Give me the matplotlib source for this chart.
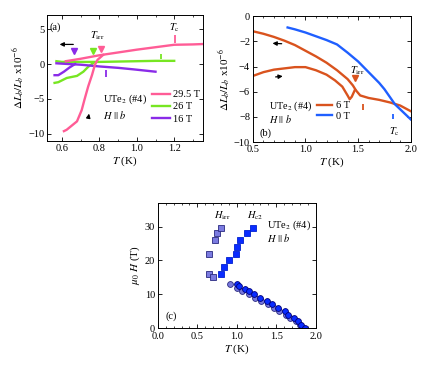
import matplotlib
matplotlib.use("Agg")
import matplotlib.pyplot as plt
from matplotlib.ticker import MultipleLocator

plt.rcParams['font.family'] = ['Liberation Serif', 'DejaVu Serif']
plt.rcParams['mathtext.fontset'] = 'stix'
plt.rcParams['font.size'] = 7.5

# ---------------- Panel (a) data ----------------
a295_cool_T = [0.62, 0.70, 0.80, 0.90, 1.00, 1.10, 1.20, 1.30, 1.35]
a295_cool_y = [0.40, 0.75, 1.25, 1.65, 2.05, 2.40, 2.75, 2.80, 2.85]
a295_warm_T = [0.61, 0.625, 0.68, 0.705, 0.72, 0.74, 0.76, 0.776, 0.79, 0.82]
a295_warm_y = [-9.6, -9.4, -8.2, -6.6, -5.1, -3.2, -1.6, -0.1, 0.6, 1.3]
a26_cool_T = [0.57, 0.60, 0.70, 0.80, 0.90, 1.00, 1.10, 1.20]
a26_cool_y = [0.40, 0.30, 0.30, 0.30, 0.35, 0.40, 0.45, 0.45]
a26_warm_T = [0.56, 0.58, 0.625, 0.68, 0.714, 0.74, 0.77]
a26_warm_y = [-2.7, -2.6, -2.0, -1.7, -1.1, -0.4, 0.2]
a16_cool_T = [0.57, 0.60, 0.70, 0.80, 0.90, 0.98, 1.10]
a16_cool_y = [0.10, 0.05, -0.10, -0.35, -0.55, -0.76, -1.10]
a16_warm_T = [0.56, 0.58, 0.61, 0.64, 0.67]
a16_warm_y = [-1.6, -1.6, -1.1, -0.5, 0.0]
a_labels = ['29.5 T', '26 T', '16 T']
a_colors = ['#ff5c96', '#77e622', '#8a2be8']
a_tirr_T = [0.81, 0.764, 0.665]
a_tirr_y = [2.2, 1.9, 1.8]
a_tc_T = [1.205, 1.128, 0.835]
a_tc_lo = [3.0, 0.7, -1.9]
a_tc_hi = [4.1, 1.5, -0.9]

# ---------------- Panel (b) data ----------------
b6_cool_T = [0.5, 0.6, 0.7, 0.8, 0.9, 1.0, 1.1, 1.2, 1.3, 1.4, 1.45, 1.48, 1.52,
             1.6, 1.7, 1.8, 1.9, 2.0]
b6_cool_y = [-1.2, -1.4, -1.65, -1.95, -2.3, -2.75, -3.2, -3.7, -4.3, -5.0, -5.5,
             -5.9, -6.3, -6.5, -6.65, -6.85, -7.1, -7.55]
b6_warm_T = [0.5, 0.6, 0.7, 0.8, 0.9, 1.0, 1.1, 1.2, 1.28, 1.35, 1.40, 1.42, 1.44, 1.47]
b6_warm_y = [-4.75, -4.45, -4.25, -4.15, -4.05, -4.05, -4.3, -4.65, -5.1, -5.6,
             -6.3, -6.6, -6.4, -5.85]
b0_T = [0.83, 0.9, 1.0, 1.1, 1.2, 1.3, 1.4, 1.5, 1.6, 1.7, 1.75, 1.8, 1.85, 1.9, 1.95, 2.0]
b0_y = [-0.9, -1.05, -1.3, -1.6, -1.9, -2.25, -2.9, -3.6, -4.45, -5.3, -5.8,
        -6.4, -7.0, -7.4, -7.8, -8.2]
b_labels = ['6 T', '0 T']
b_colors = ['#d9531e', '#1f5fff']
b_tirr_T = [1.47]
b_tirr_y = [-4.9]
b_tc_T = [1.55, 1.83]
b_tc_lo = [-7.45, -8.2]
b_tc_hi = [-6.95, -7.75]

# ---------------- Panel (c) data ----------------
hirr_sq_T = [0.65, 0.72, 0.75, 0.80, 0.65, 0.70]
hirr_sq_H = [22.0, 26.0, 28.0, 29.5, 16.0, 15.0]
hc2_sq_T = [0.80, 0.84, 0.90, 0.99, 1.00, 1.04, 1.13, 1.20]
hc2_sq_H = [16.0, 18.0, 20.0, 22.0, 24.0, 26.0, 28.0, 29.5]
hc2_ci_T = [1.00, 1.03, 1.10, 1.16, 1.22, 1.30, 1.38, 1.45, 1.52, 1.61, 1.65,
            1.72, 1.78, 1.82, 1.86]
hc2_ci_H = [13.0, 12.5, 11.5, 11.0, 10.0, 9.0, 8.0, 7.0, 6.0, 5.0, 4.0,
            3.0, 2.0, 1.0, 0.0]
hirr_ci_T = [0.92, 1.00, 1.07, 1.155, 1.23, 1.31, 1.39, 1.47, 1.54, 1.62, 1.68,
             1.75, 1.80, 1.83]
hirr_ci_H = [13.0, 12.0, 11.0, 10.0, 9.0, 8.0, 7.0, 6.0, 5.0, 4.0, 3.0,
             2.0, 1.0, 0.0]

fig = plt.figure(figsize=(4.36, 3.67), dpi=100)
axa = fig.add_axes([0.108, 0.616, 0.358, 0.343])
axb = fig.add_axes([0.580, 0.613, 0.362, 0.343])
axc = fig.add_axes([0.362, 0.106, 0.362, 0.341])


def style(ax):
    ax.tick_params(which='both', direction='in', top=True, right=True,
                   labelsize=7.5, pad=2)
    ax.tick_params(which='major', length=3, width=0.6)
    ax.tick_params(which='minor', length=1.6, width=0.5)
    for s in ax.spines.values():
        s.set_linewidth(0.7)


lw = 1.7
ylab = r'$\Delta L_b/L_b$ x10$^{-6}$'

# ---- (a) ----
cool_a = [(a295_cool_T, a295_cool_y), (a26_cool_T, a26_cool_y), (a16_cool_T, a16_cool_y)]
warm_a = [(a295_warm_T, a295_warm_y), (a26_warm_T, a26_warm_y), (a16_warm_T, a16_warm_y)]
for i in [1, 2, 0]:
    axa.plot(*warm_a[i], color=a_colors[i], lw=lw)
    axa.plot(*cool_a[i], color=a_colors[i], lw=lw, label=a_labels[i])
for i in range(3):
    axa.plot([a_tirr_T[i]], [a_tirr_y[i]], marker='v', color=a_colors[i], ms=4.5,
             mec=a_colors[i], ls='none', zorder=5)
    axa.vlines(a_tc_T[i], a_tc_lo[i], a_tc_hi[i], color=a_colors[i], lw=1.3, zorder=5)
hs, ls = axa.get_legend_handles_labels()
order = [ls.index(l) for l in a_labels]
axa.legend([hs[k] for k in order], [ls[k] for k in order], loc='upper left',
           bbox_to_anchor=(0.672, 0.405), frameon=False, borderpad=0, borderaxespad=0,
           labelspacing=0.28, handlelength=1.75, handletextpad=0.3, fontsize=7.5)
axa.text(0.82, -5.0, r'UTe$_2$ (#4)', fontsize=7.5, va='center', ha='left')
axa.text(0.82, -7.3, r'$H\ ||\ b$', fontsize=7.5, va='center', ha='left')
axa.text(0.79, 4.0, r'$T_{\rm irr}$', fontsize=7.5, ha='center', va='center')
axa.text(1.20, 5.2, r'$T_{\rm c}$', fontsize=7.5, ha='center', va='center')
axa.text(0.535, 5.2, '(a)', fontsize=7.5, ha='left', va='center')
axa.annotate('', xy=(0.572, 2.8), xytext=(0.675, 2.8),
             arrowprops=dict(arrowstyle='-|>', color='k', lw=0.9, mutation_scale=6))
axa.annotate('', xy=(0.747, -6.7), xytext=(0.738, -8.1),
             arrowprops=dict(arrowstyle='-|>', color='k', lw=0.9, mutation_scale=6))
axa.set_xlim(0.52, 1.355)
axa.set_ylim(-11, 7)
axa.xaxis.set_major_locator(MultipleLocator(0.2))
axa.xaxis.set_minor_locator(MultipleLocator(0.1))
axa.yaxis.set_major_locator(MultipleLocator(5))
axa.set_xlabel(r'$T$ (K)', fontsize=8, labelpad=1)
axa.set_ylabel(ylab, fontsize=8, labelpad=1)
style(axa)

# ---- (b) ----
axb.plot(b6_cool_T, b6_cool_y, color=b_colors[0], lw=lw, label=b_labels[0])
axb.plot(b6_warm_T, b6_warm_y, color=b_colors[0], lw=lw)
axb.plot(b0_T, b0_y, color=b_colors[1], lw=lw, label=b_labels[1])
axb.plot(b_tirr_T, b_tirr_y, marker='v', color=b_colors[0], ms=4.5, ls='none')
for i in range(2):
    axb.vlines(b_tc_T[i], b_tc_lo[i], b_tc_hi[i], color=b_colors[i], lw=1.3)
axb.legend(loc='upper left', bbox_to_anchor=(0.405, 0.325), frameon=False, borderpad=0,
           borderaxespad=0, labelspacing=0.12, handlelength=1.5, handletextpad=0.35,
           fontsize=7.5)
axb.text(0.655, -7.62, 'UTe$_2$ (#4)\n$H\\ ||\\ b$', fontsize=7.3, va='center',
         ha='left', linespacing=1.0)
axb.text(1.49, -4.3, r'$T_{\rm irr}$', fontsize=7.5, ha='center', va='center')
axb.text(1.84, -9.2, r'$T_{\rm c}$', fontsize=7.5, ha='center', va='center')
axb.text(0.56, -9.3, '(b)', fontsize=7.5, ha='left', va='center')
axb.annotate('', xy=(0.66, -2.15), xytext=(0.80, -2.2),
             arrowprops=dict(arrowstyle='-|>', color='k', lw=0.9, mutation_scale=6))
axb.annotate('', xy=(0.81, -4.75), xytext=(0.69, -4.85),
             arrowprops=dict(arrowstyle='-|>', color='k', lw=0.9, mutation_scale=6))
axb.set_xlim(0.5, 2.0)
axb.set_ylim(-10, 0)
axb.xaxis.set_major_locator(MultipleLocator(0.5))
axb.xaxis.set_minor_locator(MultipleLocator(0.1))
axb.yaxis.set_major_locator(MultipleLocator(2))
axb.set_xlabel(r'$T$ (K)', fontsize=8, labelpad=1)
axb.set_ylabel(ylab, fontsize=8, labelpad=1)
style(axb)

# ---- (c) ----
axc.plot(hirr_ci_T, hirr_ci_H, 'o', ms=4.2, mfc='#7878dc', mec='#2a2a80', mew=0.6)
axc.plot(hc2_ci_T, hc2_ci_H, 'o', ms=4.2, mfc='#0a2cff', mec='#00007a', mew=0.6)
axc.plot(hirr_sq_T, hirr_sq_H, 's', ms=4.0, mfc='#7b7be0', mec='#2a2a80', mew=0.6)
axc.plot(hc2_sq_T, hc2_sq_H, 's', ms=4.0, mfc='#0a2cff', mec='#0020d0', mew=0.6)
axc.text(0.81, 33.2, r'$H_{\rm irr}$', fontsize=7.5, ha='center', va='center')
axc.text(1.23, 33.2, r'$H_{\rm c2}$', fontsize=7.5, ha='center', va='center')
axc.text(1.38, 30.3, r'UTe$_2$ (#4)', fontsize=7.5, ha='left', va='center')
axc.text(1.38, 26.5, r'$H\ ||\ b$', fontsize=7.5, ha='left', va='center')
axc.text(0.1, 3.5, '(c)', fontsize=7.5, ha='left', va='center')
axc.set_xlim(0, 2.0)
axc.set_ylim(0, 37)
axc.xaxis.set_major_locator(MultipleLocator(0.5))
axc.xaxis.set_minor_locator(MultipleLocator(0.1))
axc.yaxis.set_major_locator(MultipleLocator(10))
axc.set_xlabel(r'$T$ (K)', fontsize=8, labelpad=1)
axc.set_ylabel(r'$\mu_0\ H$ (T)', fontsize=8, labelpad=2)
style(axc)
axc.tick_params(axis='x', which='major', pad=3)

fig.savefig('out.png', dpi=100)
